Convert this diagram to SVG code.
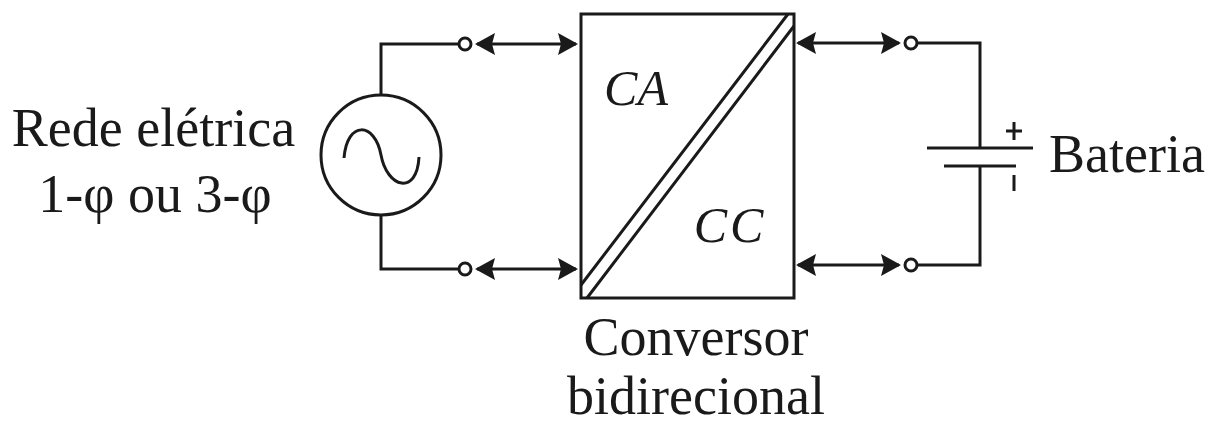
<svg xmlns="http://www.w3.org/2000/svg" width="1223" height="426" viewBox="0 0 1223 426">
<style>
.w{fill:none;stroke:#1a1a1a;stroke-width:3}
.t{font-family:"Liberation Serif",serif;font-size:54px;fill:#1a1a1a;text-anchor:middle}
.i{font-style:italic;font-size:50px}
.o{fill:#fff;stroke:#1a1a1a;stroke-width:3}
</style>
<defs>
<marker id="a" markerUnits="userSpaceOnUse" markerWidth="20" markerHeight="22" refX="18" refY="11" orient="auto-start-reverse"><path d="M0 0L20 11L0 22L3 11z" fill="#1a1a1a"/></marker>
</defs>
<rect width="1223" height="426" fill="#fff"/>
<g id="connectors">
<path class="w" d="M465 44H381V96M381 214V269H465"/>
<path class="w" d="M911 43H980V148M980 166V265H911"/>
<path class="w" d="M477 44H576" marker-start="url(#a)" marker-end="url(#a)"/>
<path class="w" d="M477 269H576" marker-start="url(#a)" marker-end="url(#a)"/>
<path class="w" d="M798 43H899" marker-start="url(#a)" marker-end="url(#a)"/>
<path class="w" d="M798 265H899" marker-start="url(#a)" marker-end="url(#a)"/>
<circle class="o" cx="465" cy="44" r="6"/>
<circle class="o" cx="465" cy="269" r="6"/>
<circle class="o" cx="911" cy="43" r="6"/>
<circle class="o" cx="911" cy="265" r="6"/>
</g>
<g id="rede">
<circle cx="381" cy="155" r="60" fill="#fff" stroke="#1a1a1a" stroke-width="3"/>
<path class="w" d="M344 158C347 120 375 122 381 155S417 196 419 157"/>
<text class="t" x="153.500" y="146">Rede elétrica</text>
<text class="t" x="155" y="212">1-φ ou 3-φ</text>
</g>
<g id="conversor">
<rect x="581" y="14" width="213" height="284" fill="#fff" stroke="#1a1a1a" stroke-width="3"/>
<path class="w" d="M581 285L788 14M587 298L794 26"/>
<text class="t i" x="636" y="105">CA</text>
<text class="t i" x="730" y="242" letter-spacing="3">CC</text>
<text class="t" x="696" y="355">Conversor</text>
<text class="t" x="696" y="414">bidirecional</text>
</g>
<g id="bateria">
<path class="w" d="M927 148H1033M944 166H1016"/>
<path class="w" d="M1006 131H1022M1014 122V140M1014 175V191"/>
<text class="t" x="1127" y="172">Bateria</text>
</g>
</svg>
